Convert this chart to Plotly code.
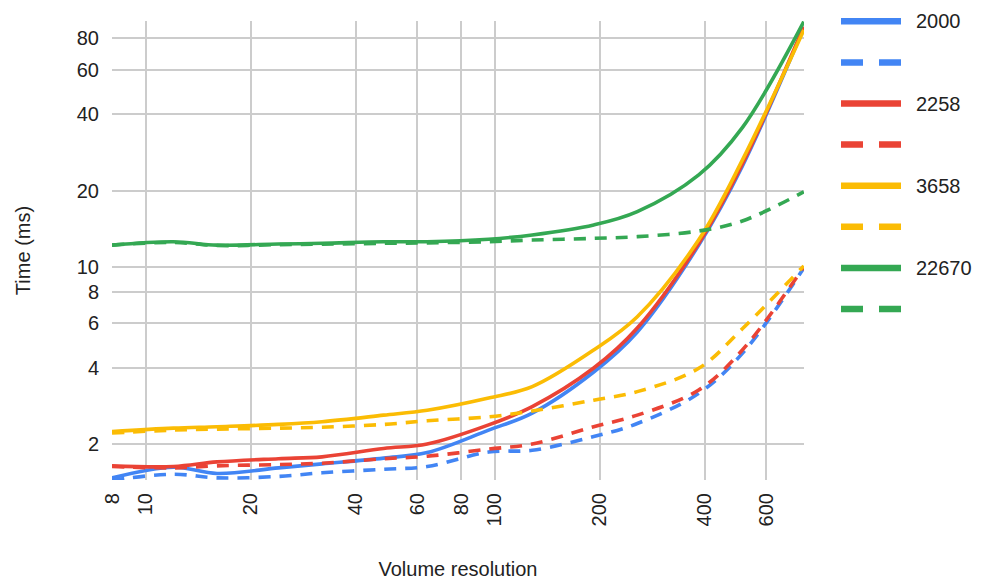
import math
import plotly.graph_objects as go

# ---------------- data ----------------
resolutions = [8, 12, 16, 24, 32, 48, 64, 96, 128, 192, 256, 384, 512, 768]

series_names = ["2000", "2258", "3658", "22670"]
series_colors = ["#4285F4", "#EA4335", "#FBBC04", "#34A853"]

blue_solid = [1.47, 1.62, 1.53, 1.61, 1.67, 1.76, 1.85, 2.27, 2.65, 3.85, 5.54, 12.2, 25.0, 88.0]
blue_dashed = [1.44, 1.52, 1.47, 1.49, 1.54, 1.59, 1.63, 1.86, 1.89, 2.14, 2.41, 3.17, 4.56, 9.9]
red_solid = [1.64, 1.63, 1.70, 1.75, 1.78, 1.92, 2.00, 2.38, 2.81, 3.99, 5.74, 12.4, 25.5, 88.8]
red_dashed = [1.63, 1.61, 1.64, 1.66, 1.68, 1.75, 1.79, 1.91, 2.00, 2.34, 2.60, 3.27, 4.70, 10.0]
orange_solid = [2.24, 2.31, 2.34, 2.39, 2.45, 2.60, 2.72, 3.04, 3.37, 4.70, 6.36, 12.8, 26.4, 86.2]
orange_dashed = [2.21, 2.27, 2.29, 2.31, 2.33, 2.39, 2.47, 2.56, 2.70, 2.98, 3.22, 3.98, 5.70, 10.1]
green_solid = [12.2, 12.58, 12.2, 12.32, 12.40, 12.58, 12.58, 12.87, 13.38, 14.65, 16.54, 23.1, 35.5, 93.0]
green_dashed = [12.2, 12.5, 12.15, 12.25, 12.3, 12.4, 12.45, 12.58, 12.77, 12.97, 13.17, 13.87, 15.19, 19.8]

solid_series = [blue_solid, red_solid, orange_solid, green_solid]
dashed_series = [blue_dashed, red_dashed, orange_dashed, green_dashed]

x_tick_vals = [8, 10, 20, 40, 60, 80, 100, 200, 400, 600]
y_tick_vals = [2, 4, 6, 8, 10, 20, 40, 60, 80]

x_title = "Volume resolution"
y_title = "Time (ms)"

# ---------------- layout constants ----------------
W, H = 984, 582
L, R, T, B = 112, 804, 21, 480
FONT = "Liberation Sans, Arial, sans-serif"
TXT = "#222222"
LW = 3.6
DASH = "12px,9px"

fig = go.Figure()
for name, color, solid, dashed in zip(series_names, series_colors, solid_series, dashed_series):
    fig.add_trace(go.Scatter(x=resolutions, y=solid, mode="lines", name=name,
                             line=dict(color=color, width=LW, shape="spline", smoothing=1),
                             showlegend=False))
    fig.add_trace(go.Scatter(x=resolutions, y=dashed, mode="lines", name=name + " (dashed)",
                             line=dict(color=color, width=LW, shape="spline", smoothing=1, dash=DASH),
                             showlegend=False))

# ---------------- custom legend (layout only) ----------------
def pxx(px):
    return (px - L) / (R - L)

def pxy(py):
    return (B - py) / (B - T)

shapes = []
annotations = []
entry = 0
for name, color in zip(series_names, series_colors):
    for dashed in (False, True):
        yc = 21.3 + 41.1 * entry
        shapes.append(dict(type="line", xref="paper", yref="paper",
                           x0=pxx(841), x1=pxx(901), y0=pxy(yc), y1=pxy(yc),
                           line=dict(color=color, width=6.5, dash="22px,16px" if dashed else "solid")))
        if not dashed:
            annotations.append(dict(xref="paper", yref="paper", x=pxx(914), y=pxy(yc),
                                    xanchor="left", yanchor="middle", text=name, showarrow=False,
                                    font=dict(family=FONT, size=20, color=TXT)))
        entry += 1

fig.update_layout(
    width=W, height=H,
    margin=dict(l=L, r=W - R, t=T, b=H - B, autoexpand=False),
    paper_bgcolor="white", plot_bgcolor="white",
    font=dict(family=FONT, size=20, color=TXT),
    shapes=shapes, annotations=annotations,
    showlegend=False,
)

fig.update_xaxes(
    type="log", range=[math.log10(8), math.log10(769)],
    tickvals=x_tick_vals, ticktext=[str(v) for v in x_tick_vals],
    tickangle=-90, ticks="", ticklabelstandoff=8,
    showgrid=True, gridcolor="#cccccc", gridwidth=1.6,
    zeroline=False, showline=False,
    tickfont=dict(family=FONT, size=20, color=TXT),
    title=dict(text=x_title, standoff=36, font=dict(family=FONT, size=20, color=TXT)),
)
fig.update_yaxes(
    type="log", range=[0.159, 1.971],
    tickvals=y_tick_vals, ticktext=[str(v) for v in y_tick_vals],
    ticks="", ticklabelstandoff=12,
    showgrid=True, gridcolor="#cccccc", gridwidth=1.6,
    zeroline=False, showline=False,
    tickfont=dict(family=FONT, size=20, color=TXT),
    title=dict(text=y_title, standoff=40, font=dict(family=FONT, size=20, color=TXT)),
)

fig.write_html("out.html")
